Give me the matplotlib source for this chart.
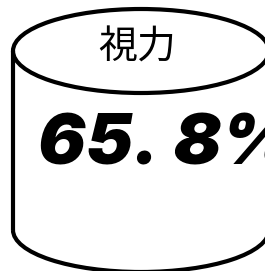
import matplotlib
matplotlib.use('Agg')
import matplotlib.pyplot as plt
from matplotlib.patches import Ellipse, Arc

# data
label = '視力'
value = 65.8
value_text = '{:.0f}. {:.0f}%'.format(value // 1, round((value % 1) * 10))

W, H = 265, 271
fig = plt.figure(figsize=(W / 100, H / 100), dpi=100)
ax = fig.add_axes([0, 0, 1, 1])
ax.set_xlim(0, W)
ax.set_ylim(H, 0)
ax.axis('off')

# cylinder geometry (pixels), right side runs off the canvas
cx, top_y, bot_y = 141, 51, 230
rx, ry = 128, 42
lw = 3.0

ax.add_patch(Ellipse((cx, top_y), 2 * rx, 2 * ry, fill=False, lw=lw, ec='black'))
ax.plot([cx - rx, cx - rx], [top_y, bot_y], color='black', lw=lw, solid_capstyle='butt')
ax.plot([cx + rx, cx + rx], [top_y, bot_y], color='black', lw=lw, solid_capstyle='butt')
# y axis inverted -> lower half is angles 0..180
ax.add_patch(Arc((cx, bot_y), 2 * rx, 2 * ry, theta1=0, theta2=180, lw=lw, color='black'))

ax.text(137, 48, label, ha='center', va='center', fontsize=28,
        family=['Noto Sans CJK JP', 'DejaVu Sans'], color='black')
ax.text(38, 146, value_text, ha='left', va='center', fontsize=51,
        family=['Inter', 'DejaVu Sans'], weight=900, style='italic', color='black')

fig.savefig('out.png', dpi=100, facecolor='white')
